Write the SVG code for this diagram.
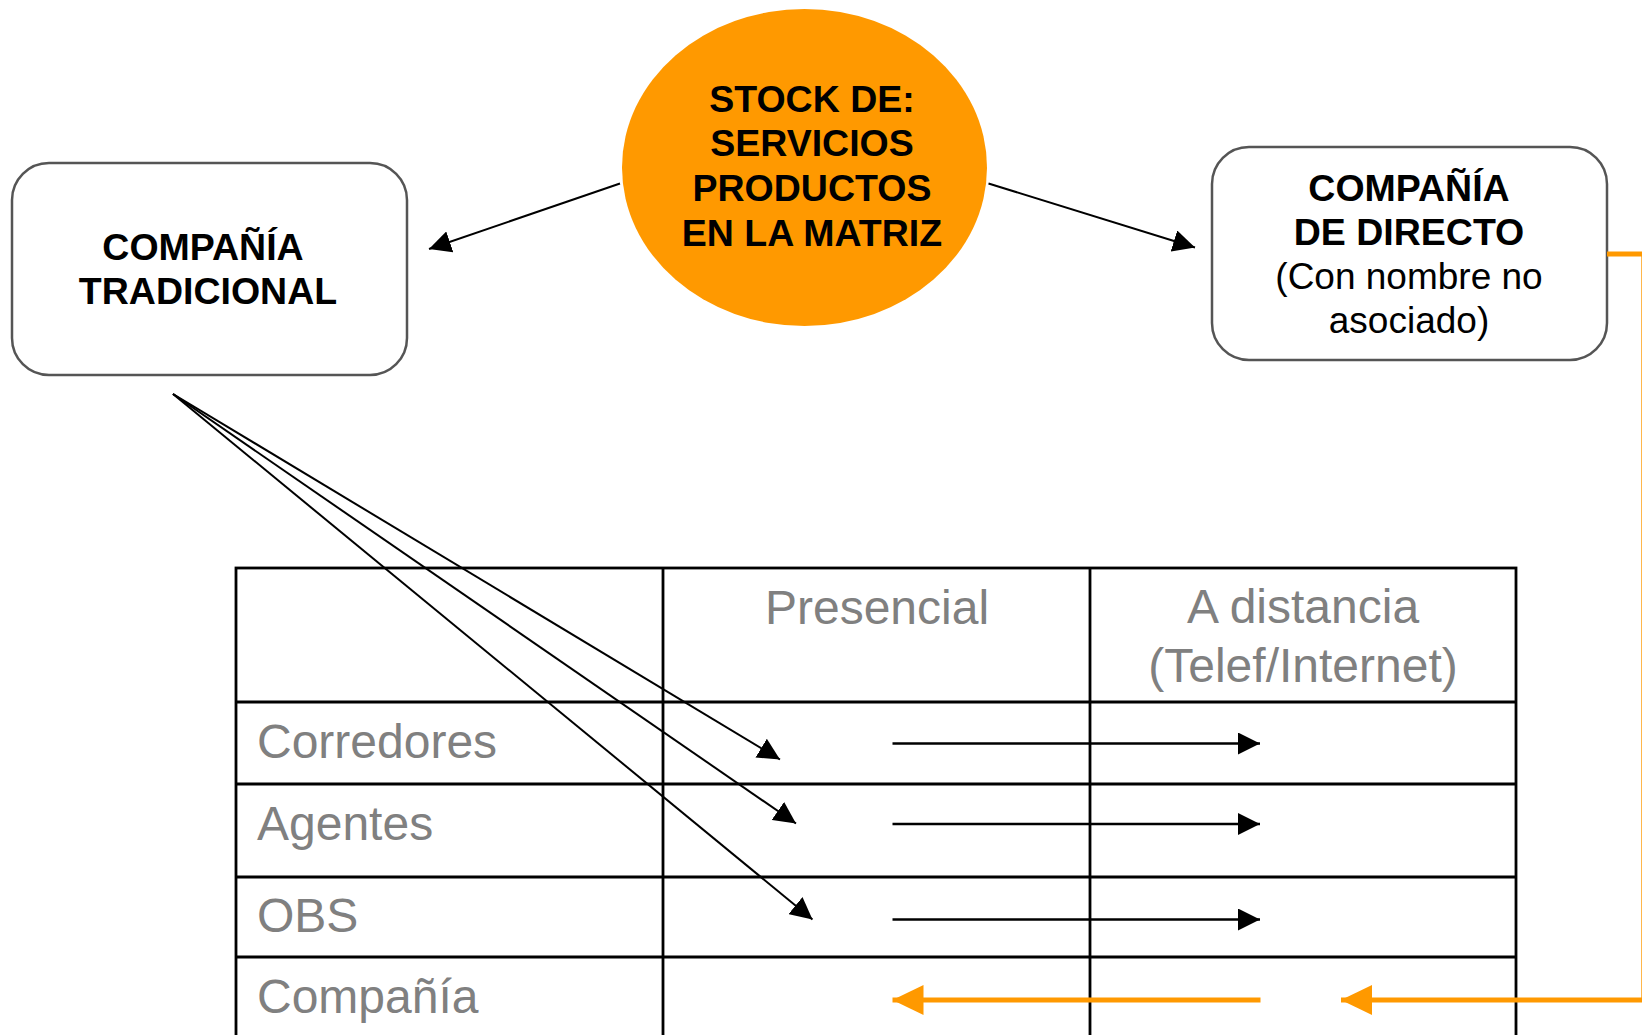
<svg xmlns="http://www.w3.org/2000/svg" width="1642" height="1035" viewBox="0 0 1642 1035">
  <style>
    .box { fill: #ffffff; stroke: #555555; stroke-width: 2.5; }
    .hub { fill: #ff9900; }
    .bold { font-family: "Liberation Sans", Arial, sans-serif; font-weight: bold; font-size: 37.5px; fill: #000000; text-anchor: middle; }
    .plain { font-family: "Liberation Sans", Arial, sans-serif; font-size: 37px; fill: #000000; text-anchor: middle; }
    .cell { font-family: "Liberation Sans", Arial, sans-serif; font-size: 48px; fill: #808080; }
    .grid { stroke: #000000; stroke-width: 2.8; fill: none; }
    .link { stroke: #000000; stroke-width: 2; fill: none; marker-end: url(#head); }
    .flow { stroke: #000000; stroke-width: 2.5; fill: none; marker-end: url(#head); }
    .back { stroke: #ff9900; stroke-width: 5; fill: none; marker-end: url(#headOrange); }
  </style>
  <defs>
    <marker id="head" markerUnits="userSpaceOnUse" markerWidth="22" markerHeight="22" refX="22" refY="11" orient="auto">
      <path d="M0,0 L22,11 L0,22 z" fill="#000000"/>
    </marker>
    <marker id="headOrange" markerUnits="userSpaceOnUse" markerWidth="31" markerHeight="30" refX="31" refY="15" orient="auto">
      <path d="M0,0 L31,15 L0,30 z" fill="#ff9900"/>
    </marker>
  </defs>

  <rect width="1642" height="1035" fill="#ffffff"/>

  <!-- central stock -->
  <g id="stock">
    <ellipse class="hub" cx="804.5" cy="167.5" rx="182.5" ry="158.5"/>
    <text class="bold" x="812" y="112" font-size="38.8">STOCK DE:</text>
    <text class="bold" x="812" y="156" font-size="38.8">SERVICIOS</text>
    <text class="bold" x="812" y="201" font-size="38.8">PRODUCTOS</text>
    <text class="bold" x="812" y="246" font-size="38.8">EN LA MATRIZ</text>
  </g>

  <!-- traditional company -->
  <g id="tradicional">
    <rect class="box" x="12" y="163" width="395" height="212" rx="37" ry="37"/>
    <text class="bold" x="203" y="260">COMPAÑÍA</text>
    <text class="bold" x="208" y="304">TRADICIONAL</text>
  </g>

  <!-- direct company -->
  <g id="directo">
    <rect class="box" x="1212" y="147" width="395" height="213" rx="37" ry="37"/>
    <text class="bold" x="1409" y="201">COMPAÑÍA</text>
    <text class="bold" x="1409" y="245">DE DIRECTO</text>
    <text class="plain" x="1409" y="289">(Con nombre no</text>
    <text class="plain" x="1409" y="333">asociado)</text>
  </g>

  <!-- channel matrix -->
  <g id="matriz">
    <rect class="grid" x="236" y="568" width="1280" height="500"/>
    <line class="grid" x1="663" y1="568" x2="663" y2="1040"/>
    <line class="grid" x1="1090" y1="568" x2="1090" y2="1040"/>
    <line class="grid" x1="236" y1="702" x2="1516" y2="702"/>
    <line class="grid" x1="236" y1="784" x2="1516" y2="784"/>
    <line class="grid" x1="236" y1="877" x2="1516" y2="877"/>
    <line class="grid" x1="236" y1="957" x2="1516" y2="957"/>
    <text class="cell" x="877" y="624" text-anchor="middle">Presencial</text>
    <text class="cell" x="1303" y="623" text-anchor="middle">A distancia</text>
    <text class="cell" x="1303" y="682" text-anchor="middle" font-size="49">(Telef/Internet)</text>
    <text class="cell" x="257" y="758">Corredores</text>
    <text class="cell" x="257" y="840">Agentes</text>
    <text class="cell" x="257" y="932">OBS</text>
    <text class="cell" x="257" y="1013">Compañía</text>
  </g>

  <!-- connectors -->
  <g id="connectors">
    <line class="link" x1="620" y1="183.5" x2="429" y2="249"/>
    <line class="link" x1="988.5" y1="183.5" x2="1195" y2="247.5"/>
    <line class="link" x1="173" y1="394" x2="780" y2="759.5"/>
    <line class="link" x1="173" y1="394" x2="796" y2="823.5"/>
    <line class="link" x1="173" y1="394" x2="812.5" y2="919.5"/>
    <line class="flow" x1="892.5" y1="743.5" x2="1260" y2="743.5"/>
    <line class="flow" x1="892.5" y1="824" x2="1260" y2="824"/>
    <line class="flow" x1="892.5" y1="919.5" x2="1260" y2="919.5"/>
    <line class="back" x1="1260.5" y1="1000" x2="892.5" y2="1000"/>
    <path class="back" d="M1607,254 H1643.8 V1000 H1341"/>
  </g>
</svg>
